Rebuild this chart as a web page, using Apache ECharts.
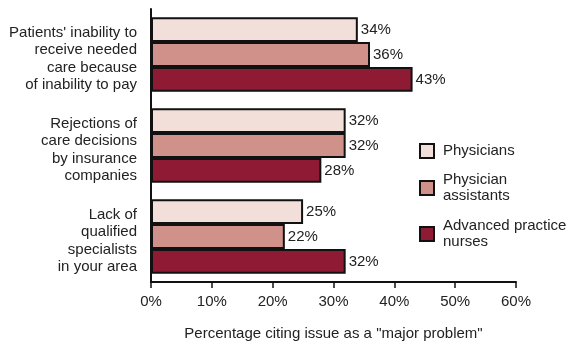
<!DOCTYPE html>
<html>
<head>
<meta charset="utf-8">
<script src="https://cdn.jsdelivr.net/npm/echarts@6/dist/echarts.min.js"></script>
<style>
  html, body { margin: 0; padding: 0; background: #fff; }
  #chart { width: 567px; height: 341px; }
</style>
</head>
<body>
<div id="chart"></div>
<script>
// 類別（由上到下）
const categories = [
  "Patients' inability to\nreceive needed\ncare because\nof inability to pay",
  'Rejections of\ncare decisions\nby insurance\ncompanies',
  'Lack of\nqualified\nspecialists\nin your area'
];
const seriesNames = ['Physicians', 'Physician\nassistants', 'Advanced practice\nnurses'];
const physicians = [34, 32, 25];
const physicianAssistants = [36, 32, 22];
const practiceNurses = [43, 28, 32];
const colors = ['#F2DFD9', '#D0918B', '#8F1A33'];
const xTicks = [0, 10, 20, 30, 40, 50, 60];

const font = 'Liberation Sans, Arial, sans-serif';
const chart = echarts.init(document.getElementById('chart'));

const makeSeries = (name, data, color) => ({
  name: name,
  type: 'bar',
  data: data,
  barGap: '0%',
  barCategoryGap: '18%',
  itemStyle: { color: color, borderColor: '#111', borderWidth: 2 },
  label: {
    show: true,
    position: 'right',
    distance: 3,
    formatter: '{c}%',
    color: '#222',
    fontSize: 15,
    fontFamily: font
  }
});

// 圖例：每項各自定位
const legendTops = [138, 167, 213];
const makeLegend = (i) => ({
  orient: 'vertical',
  left: 414,
  top: legendTops[i],
  itemWidth: 14,
  itemHeight: 14,
  icon: 'rect',
  itemStyle: { borderColor: '#111', borderWidth: 2 },
  textStyle: { fontSize: 15, color: '#222', lineHeight: 16, fontFamily: font, padding: [0, 0, 0, 4] },
  data: [seriesNames[i]]
});

const option = {
  animation: false,
  textStyle: { fontFamily: font },
  grid: { left: 151, right: 51, top: 9, bottom: 59, outerBoundsMode: 'none', containLabel: false },
  legend: [makeLegend(0), makeLegend(1), makeLegend(2)],
  xAxis: {
    type: 'value',
    min: xTicks[0],
    max: xTicks[xTicks.length - 1],
    interval: 10,
    name: 'Percentage citing issue as a "major problem"',
    nameLocation: 'middle',
    nameGap: 44,
    nameTextStyle: { fontSize: 15, color: '#222', fontFamily: font },
    axisLine: { show: true, lineStyle: { color: '#111', width: 2 } },
    axisTick: { show: true, length: 6, lineStyle: { color: '#111', width: 1.5 } },
    axisLabel: { formatter: '{value}%', fontSize: 15, color: '#222', margin: 12 },
    splitLine: { show: false }
  },
  yAxis: {
    type: 'category',
    inverse: true,
    data: categories,
    axisLine: { show: true, lineStyle: { color: '#111', width: 2 } },
    axisTick: { show: false },
    axisLabel: {
      fontSize: 15, color: '#222', lineHeight: 17.5, margin: 14, align: 'right',
      // 文字整體略往下移
      formatter: v => '{sp|}\n' + v,
      rich: { sp: { height: 9, lineHeight: 9, fontSize: 1 } }
    }
  },
  series: [
    makeSeries(seriesNames[0], physicians, colors[0]),
    makeSeries(seriesNames[1], physicianAssistants, colors[1]),
    makeSeries(seriesNames[2], practiceNurses, colors[2])
  ]
};
chart.setOption(option);
</script>
</body>
</html>
